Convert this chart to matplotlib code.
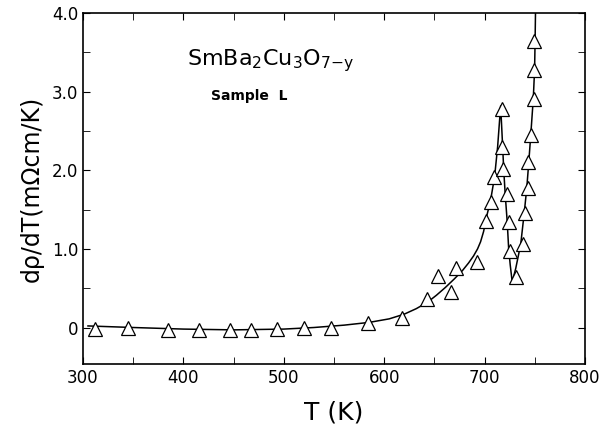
import numpy as np
from matplotlib import pyplot as plt
from matplotlib.ticker import MultipleLocator

# measured points (triangles)
T_pts = [311.8, 345, 385, 415.5, 446, 467, 493, 520, 547, 584, 617.6, 642.7, 653.4,
         666.6, 672, 692.7, 701.7, 706.3, 709.6, 717.8, 717.8, 718.5, 722.8, 723.9,
         725, 731.4, 738.5, 740.7, 742.8, 743.6, 746, 749.6, 749.6, 749.6]
drho_pts = [-0.02, -0.01, -0.03, -0.03, -0.03, -0.03, -0.02, 0.0, 0.0, 0.06, 0.12, 0.36, 0.66,
            0.45, 0.755, 0.83, 1.35, 1.60, 1.92, 2.78, 2.30, 2.02, 1.70, 1.34,
            0.97, 0.64, 1.06, 1.46, 1.77, 2.10, 2.45, 2.91, 3.28, 3.64]

# drawn curve
T_curve = [305, 350, 400, 450, 500, 530, 560, 585, 605, 620, 632, 643, 652, 661, 670, 678,
           684, 689, 693, 696, 699, 702, 706, 710, 713, 716, 718, 719, 720.5, 722.5, 724,
           725.5, 727.5, 731, 736, 739.5, 742, 744, 746, 748.5, 749.8, 750.3, 750.7]
drho_curve = [0.02, 0.0, -0.02, -0.03, -0.02, 0.0, 0.03, 0.065, 0.11, 0.17, 0.24, 0.32, 0.41,
              0.51, 0.62, 0.725, 0.82, 0.91, 1.0, 1.09, 1.22, 1.41, 1.62, 1.92, 2.3, 2.82,
              2.3, 2.02, 1.7, 1.35, 1.0, 0.8, 0.58, 0.75, 1.06, 1.46, 1.77, 2.1, 2.45, 2.91,
              3.28, 3.64, 4.0]

x_ticks = [300, 400, 500, 600, 700, 800]
y_ticks = [0, 1, 2, 3, 4]
y_ticklabels = ['0', '1.0', '2.0', '3.0', '4.0']

fig = plt.figure(figsize=(6.1, 4.33), dpi=100)
ax = fig.add_axes([0.136, 0.159, 0.823, 0.811])

ax.plot(T_curve, drho_curve, '-k', lw=1.1, zorder=2)
ax.plot(T_pts, drho_pts, '^', ms=10, mfc='white', mec='black', mew=0.9, zorder=3)

ax.set_xlim(300, 800)
ax.set_ylim(-0.466, 4.0)
ax.set_xticks(x_ticks)
ax.set_yticks(y_ticks)
ax.set_yticklabels(y_ticklabels)
ax.xaxis.set_minor_locator(MultipleLocator(50))
ax.yaxis.set_minor_locator(MultipleLocator(0.5))
ax.tick_params(which='both', direction='in', top=True, right=True, labelsize=12)
ax.tick_params(which='major', length=5)
ax.tick_params(which='minor', length=5)
for s in ax.spines.values():
    s.set_linewidth(1.2)

ax.set_xlabel('T (K)', fontsize=18, labelpad=10)
ax.set_ylabel('dρ/dT(mΩcm/K)', fontsize=17, labelpad=6)

ax.text(404, 3.4, r'SmBa$_2$Cu$_3$O$_{7\mathrm{-y}}$', fontsize=16, va='center')
ax.text(428, 2.95, 'Sample  L', fontsize=10, fontweight='bold', va='center')

plt.savefig('out.png')
